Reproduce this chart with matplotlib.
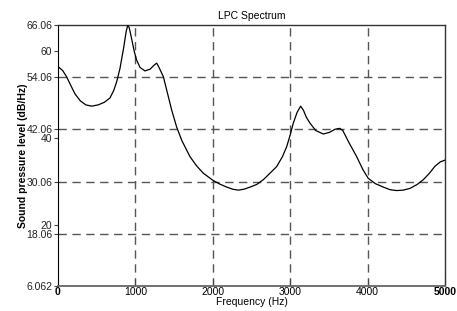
import matplotlib.pyplot as plt
import numpy as np

plt.rcParams['font.family'] = ['Liberation Sans', 'DejaVu Sans']

# LPC envelope
freq = [0, 60, 110, 170, 220, 290, 360, 435, 520, 600, 672, 720, 758, 800, 850,
        880, 900, 920, 950, 985, 1016, 1060, 1124, 1190, 1240, 1275, 1300, 1361,
        1420, 1469, 1533, 1600, 1705, 1790, 1877, 1998, 2090, 2180, 2260, 2330,
        2400, 2481, 2567, 2653, 2739, 2825, 2900, 2955, 3000, 3040, 3090, 3135,
        3170, 3210, 3256, 3330, 3428, 3510, 3580, 3640, 3680, 3760, 3859, 3940,
        4009, 4100, 4203, 4290, 4376, 4460, 4548, 4640, 4720, 4800, 4871, 4940,
        5000]
level = [56.5, 55.6, 54.2, 52.0, 50.2, 48.6, 47.7, 47.4, 47.7, 48.3, 49.3, 51.0,
         53.0, 56.0, 61.0, 64.5, 65.9, 65.5, 63.0, 60.0, 58.0, 56.3, 55.5, 55.9,
         56.8, 57.3, 56.5, 54.2, 50.0, 46.5, 42.6, 39.5, 35.8, 33.7, 32.0, 30.4,
         29.5, 28.8, 28.3, 28.1, 28.3, 28.8, 29.4, 30.5, 32.0, 33.5, 35.8, 38.1,
         40.8, 43.5, 46.0, 47.4, 46.5, 44.8, 43.5, 41.8, 41.0, 41.4, 42.1, 42.3,
         41.8, 39.0, 35.8, 32.8, 30.8, 29.6, 28.8, 28.2, 28.0, 28.1, 28.5, 29.4,
         30.5, 32.0, 33.6, 34.6, 35.0]

x_ticks = [0, 1000, 2000, 3000, 4000, 5000]
y_ticks = [6.062, 18.06, 20, 30.06, 40, 42.06, 54.06, 60, 66.06]
y_labels = ['6.062', '18.06', '20', '30.06', '40', '42.06', '54.06', '60', '66.06']
grid_y = [18.06, 30.06, 42.06, 54.06]
grid_x = [1000, 2000, 3000, 4000]

fig = plt.figure(figsize=(4.57, 3.11), dpi=100)
ax = fig.add_axes([0.1269, 0.0804, 0.8468, 0.8392])

for gy in grid_y:
    ax.axhline(gy, color='#555555', lw=1, ls=(0, (6, 4)), zorder=1)
for gx in grid_x:
    ax.axvline(gx, color='#555555', lw=1, ls=(0, (6, 4)), zorder=1)

ax.plot(freq, level, color='black', lw=0.9, zorder=3)

ax.set_xlim(0, 5000)
ax.set_ylim(6.062, 66.06)
ax.set_xticks(x_ticks)
ax.set_xticklabels([str(t) for t in x_ticks], fontsize=7.5)
ax.get_xticklabels()[-1].set_fontweight('bold')
ax.get_xticklabels()[0].set_fontweight('bold')
ax.set_yticks(y_ticks)
ax.set_yticklabels(y_labels, fontsize=7.5, color='#222222')
ax.tick_params(axis='x', direction='in', length=5, pad=0.5, color='#444444')
ax.tick_params(axis='y', direction='out', length=3, pad=1, color='#444444')

for s in ['top', 'right']:
    ax.spines[s].set_color('#333333')
    ax.spines[s].set_linewidth(1)
ax.spines['left'].set_color('black')
ax.spines['bottom'].set_color('#666666')
ax.spines['bottom'].set_linewidth(1.3)

ax.set_title('LPC Spectrum', fontsize=7.5, pad=4)
ax.set_xlabel('Frequency (Hz)', fontsize=7.5, labelpad=0)
ax.set_ylabel('Sound pressure level (dB/Hz)', fontsize=7.5, fontweight='bold', labelpad=-1)

plt.savefig('out.png', dpi=100)
